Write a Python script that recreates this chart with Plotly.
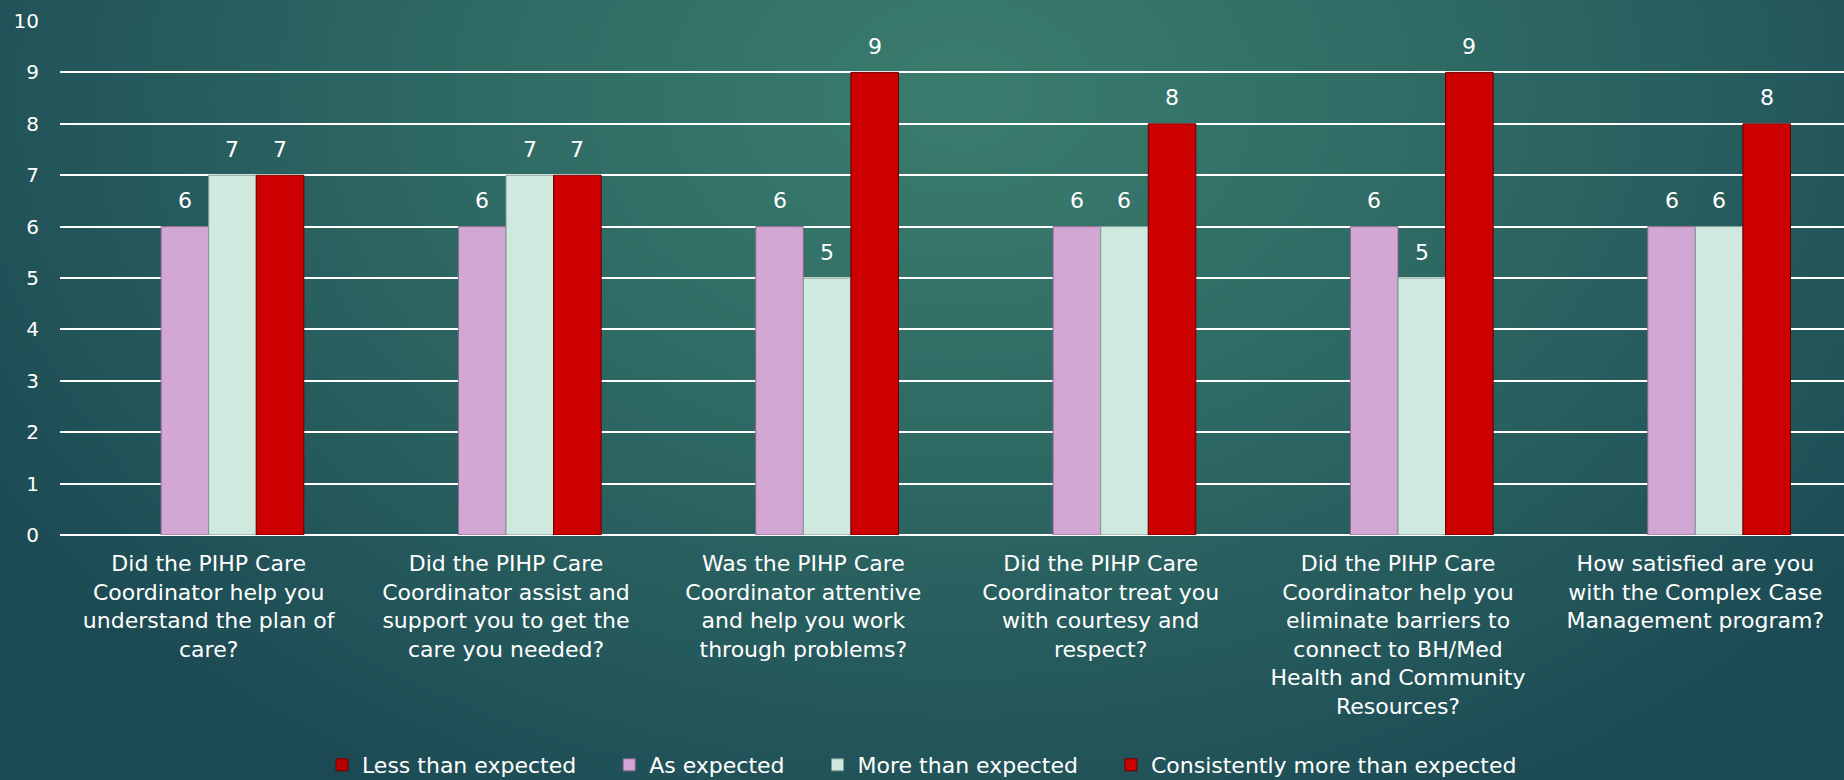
import base64
import struct
import zlib

import numpy as np
import plotly.graph_objects as go

# ---- data -------------------------------------------------------------
questions = [
    "Did the PIHP Care<br>Coordinator help you<br>understand the plan of<br>care?",
    "Did the PIHP Care<br>Coordinator assist and<br>support you to get the<br>care you needed?",
    "Was the PIHP Care<br>Coordinator attentive<br>and help you work<br>through problems?",
    "Did the PIHP Care<br>Coordinator treat you<br>with courtesy and<br>respect?",
    "Did the PIHP Care<br>Coordinator help you<br>eliminate barriers to<br>connect to BH/Med<br>Health and Community<br>Resources?",
    "How satisfied are you<br>with the Complex Case<br>Management program?",
]
less_than_expected = [None, None, None, None, None, None]
as_expected = [6, 6, 6, 6, 6, 6]
more_than_expected = [7, 7, 5, 6, 5, 6]
consistently_more = [7, 7, 9, 8, 9, 8]
y_ticks = list(range(0, 11))

# ---- figure geometry ----------------------------------------------------
W, H = 1844, 780
M_L, M_R, M_T, M_B = 60, 0, 21, 245
PW, PH = W - M_L - M_R, H - M_T - M_B
BARGAP = 0.36

FONT = "DejaVu Sans"
NBSP = "\u00a0"


def gradient_png(w, h):
    """Teal radial backdrop, brighter toward the upper middle."""
    ys, xs = np.mgrid[0:h, 0:w].astype(float)
    cx, cy = 0.52 * w, 0.12 * h
    d = np.sqrt(((xs - cx) / (0.62 * w)) ** 2 + ((ys - cy) / (1.05 * h)) ** 2)
    t = np.clip(d, 0, 1) ** 1.2
    inner = np.array([0x3A, 0x7C, 0x6E], float)
    outer = np.array([0x1C, 0x4A, 0x54], float)
    img = inner[None, None, :] * (1 - t[..., None]) + outer[None, None, :] * t[..., None]
    img = img.astype(np.uint8)
    raw = b"".join(b"\x00" + row.tobytes() for row in img)

    def chunk(tag, data):
        c = struct.pack(">I", len(data)) + tag + data
        return c + struct.pack(">I", zlib.crc32(tag + data) & 0xFFFFFFFF)

    png = b"\x89PNG\r\n\x1a\n"
    png += chunk(b"IHDR", struct.pack(">IIBBBBB", w, h, 8, 2, 0, 0, 0))
    png += chunk(b"IDAT", zlib.compress(raw, 9))
    png += chunk(b"IEND", b"")
    return "data:image/png;base64," + base64.b64encode(png).decode()


series = [
    ("Less than expected", less_than_expected, "#B80000", "#6E0000"),
    ("As expected", as_expected, "#D3A7D3", "#8C6A8C"),
    ("More than expected", more_than_expected, "#CFE9DF", "#7F9C92"),
    ("Consistently more than expected", consistently_more, "#CC0000", "#660000"),
]

fig = go.Figure()
n_series = len(series)
slot = (1 - BARGAP) / n_series
annotations = []
for k, (name, vals, color, edge) in enumerate(series):
    legend_name = name if k == n_series - 1 else name + NBSP * 4
    fig.add_trace(
        go.Bar(
            name=legend_name,
            x=questions,
            y=vals,
            marker=dict(color=color, line=dict(color=edge, width=1)),
            hovertemplate=name + ": %{y}<extra></extra>",
        )
    )
    # value labels sitting above each bar
    for i, v in enumerate(vals):
        if v is None:
            continue
        annotations.append(
            dict(
                x=i + (k - (n_series - 1) / 2) * slot,
                y=v,
                xref="x",
                yref="y",
                text=str(v),
                showarrow=False,
                yanchor="middle",
                yshift=26,
                font=dict(color="white", size=22, family=FONT),
            )
        )

fig.update_layout(
    width=W,
    height=H,
    margin=dict(l=M_L, r=M_R, t=M_T, b=M_B, autoexpand=False),
    paper_bgcolor="#265E5E",
    plot_bgcolor="rgba(0,0,0,0)",
    barmode="group",
    bargap=BARGAP,
    bargroupgap=0,
    font=dict(family=FONT, color="white", size=20),
    showlegend=True,
    legend=dict(
        orientation="h",
        x=0.5 - (M_L / 2) / PW,
        xanchor="center",
        y=-(765 - (H - M_B)) / PH,
        yanchor="middle",
        font=dict(size=22, color="white", family=FONT),
        bgcolor="rgba(0,0,0,0)",
        traceorder="normal",
    ),
    annotations=annotations,
    images=[
        dict(
            source=gradient_png(W // 4, H // 4),
            xref="paper",
            yref="paper",
            x=-M_L / PW,
            y=1 + M_T / PH,
            sizex=W / PW,
            sizey=H / PH,
            sizing="stretch",
            xanchor="left",
            yanchor="top",
            layer="below",
        )
    ],
)

fig.update_xaxes(
    showgrid=False,
    showline=False,
    ticks="",
    automargin=False,
    tickfont=dict(size=22, color="white", family=FONT),
    ticklabelstandoff=13,
)
fig.update_yaxes(
    range=[0, 10],
    tickvals=y_ticks,
    showgrid=True,
    gridcolor="white",
    gridwidth=2,
    zeroline=True,
    zerolinecolor="white",
    zerolinewidth=2,
    showline=False,
    ticks="",
    automargin=False,
    tickfont=dict(size=20, color="white", family=FONT),
    ticklabelstandoff=20,
)

fig.write_html("out.html")
